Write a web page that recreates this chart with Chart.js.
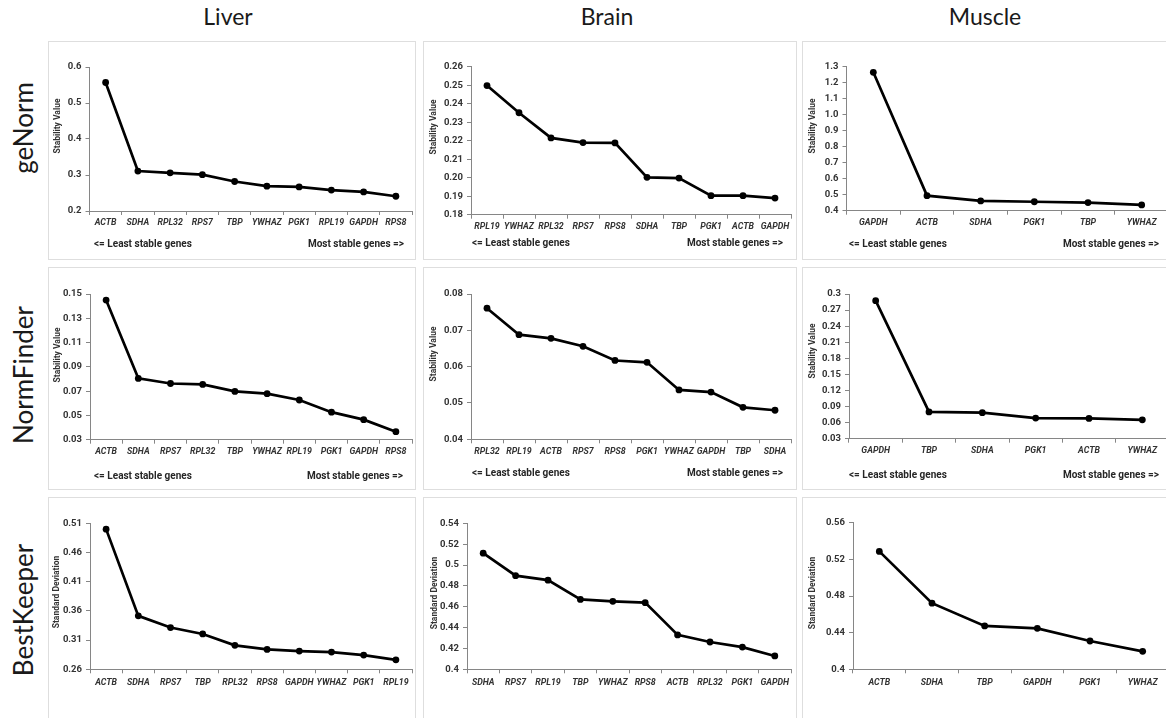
<!DOCTYPE html>
<html>
<head>
<meta charset="utf-8">
<script src="https://cdn.jsdelivr.net/npm/chart.js@4.4.1/dist/chart.umd.min.js"></script>
<style>
  html, body { margin: 0; padding: 0; background: #fff; }
  body { width: 1166px; height: 718px; position: relative; overflow: hidden; font-family: Lato, "Open Sans", sans-serif; }
  .panel { position: absolute; box-sizing: border-box; border: 1px solid #dedede; background: #fff; }
  .cv { position: absolute; }
  .colhead { position: absolute; top: 2px; width: 200px; margin-left: -100px; text-align: center; font-size: 23px; color: #1a1a1a; }
  .rowhead { position: absolute; left: 23px; width: 200px; height: 30px; margin-left: -100px; margin-top: -15px;
             line-height: 30px; text-align: center; font-size: 26px; color: #1a1a1a; transform: rotate(-90deg); }
</style>
</head>
<body>
<div class="colhead" style="left:228px">Liver</div>
<div class="colhead" style="left:607px">Brain</div>
<div class="colhead" style="left:985px">Muscle</div>
<div class="rowhead" style="top:128px">geNorm</div>
<div class="rowhead" style="top:375px">NormFinder</div>
<div class="rowhead" style="top:610px">BestKeeper</div>

<script>
// ---- data ----
const genesLiverGe = ["ACTB", "SDHA", "RPL32", "RPS7", "TBP", "YWHAZ", "PGK1", "RPL19", "GAPDH", "RPS8"];
const valsLiverGe = [0.557, 0.311, 0.306, 0.301, 0.282, 0.269, 0.267, 0.258, 0.253, 0.241];
const ticksLiverGe = ["0.2", "0.3", "0.4", "0.5", "0.6"];

const genesBrainGe = ["RPL19", "YWHAZ", "RPL32", "RPS7", "RPS8", "SDHA", "TBP", "PGK1", "ACTB", "GAPDH"];
const valsBrainGe = [0.2498, 0.2351, 0.2215, 0.219, 0.2188, 0.2002, 0.1998, 0.1903, 0.1903, 0.189];
const ticksBrainGe = ["0.18", "0.19", "0.20", "0.21", "0.22", "0.23", "0.24", "0.25", "0.26"];

const genesMuscleGe = ["GAPDH", "ACTB", "SDHA", "PGK1", "TBP", "YWHAZ"];
const valsMuscleGe = [1.265, 0.494, 0.461, 0.456, 0.451, 0.436];
const ticksMuscleGe = ["0.4", "0.5", "0.6", "0.7", "0.8", "0.9", "1.0", "1.1", "1.2", "1.3"];

const genesLiverNf = ["ACTB", "SDHA", "RPS7", "RPL32", "TBP", "YWHAZ", "RPL19", "PGK1", "GAPDH", "RPS8"];
const valsLiverNf = [0.145, 0.0805, 0.0763, 0.0755, 0.0698, 0.0679, 0.0627, 0.0527, 0.0465, 0.0366];
const ticksLiverNf = ["0.03", "0.05", "0.07", "0.09", "0.11", "0.13", "0.15"];

const genesBrainNf = ["RPL32", "RPL19", "ACTB", "RPS7", "RPS8", "PGK1", "YWHAZ", "GAPDH", "TBP", "SDHA"];
const valsBrainNf = [0.0761, 0.0688, 0.0678, 0.0656, 0.0617, 0.0612, 0.0536, 0.053, 0.0488, 0.048];
const ticksBrainNf = ["0.04", "0.05", "0.06", "0.07", "0.08"];

const genesMuscleNf = ["GAPDH", "TBP", "SDHA", "PGK1", "ACTB", "YWHAZ"];
const valsMuscleNf = [0.2875, 0.08, 0.0785, 0.0685, 0.0678, 0.0652];
const ticksMuscleNf = ["0.03", "0.06", "0.09", "0.12", "0.15", "0.18", "0.21", "0.24", "0.27", "0.3"];

const genesLiverBk = ["ACTB", "SDHA", "RPS7", "TBP", "RPL32", "RPS8", "GAPDH", "YWHAZ", "PGK1", "RPL19"];
const valsLiverBk = [0.5, 0.3515, 0.3315, 0.3205, 0.301, 0.294, 0.2912, 0.2895, 0.2843, 0.2762];
const ticksLiverBk = ["0.26", "0.31", "0.36", "0.41", "0.46", "0.51"];

const genesBrainBk = ["SDHA", "RPS7", "RPL19", "TBP", "YWHAZ", "RPS8", "ACTB", "RPL32", "PGK1", "GAPDH"];
const valsBrainBk = [0.5114, 0.4898, 0.4855, 0.467, 0.4652, 0.4639, 0.433, 0.4262, 0.4213, 0.4128];
const ticksBrainBk = ["0.4", "0.42", "0.44", "0.46", "0.48", "0.5", "0.52", "0.54"];

const genesMuscleBk = ["ACTB", "SDHA", "TBP", "GAPDH", "PGK1", "YWHAZ"];
const valsMuscleBk = [0.5287, 0.4722, 0.4473, 0.4447, 0.4309, 0.4196];
const ticksMuscleBk = ["0.4", "0.44", "0.48", "0.52", "0.56"];

// ---- layout ----
const panelCols = [{ left: 48, width: 368 }, { left: 423, width: 374 }, { left: 802, width: 380 }];
const panelRows = [{ top: 41, height: 219 }, { top: 267, height: 223 }, { top: 497, height: 225 }];
const axisGray = "#868686";
const textGray = "#333333";
const smallFont = "Roboto";

// plot: [left, top, right, bottom] in page pixels; title/notes also page pixels
const panels = [
  { col: 0, row: 0, genes: genesLiverGe, vals: valsLiverGe, ticks: ticksLiverGe, plot: [89.5, 67, 413, 211],
    title: "Stability Value", titleX: 58, titleY: 126, notesY: 244, notesL: 94, notesR: 404 },
  { col: 1, row: 0, genes: genesBrainGe, vals: valsBrainGe, ticks: ticksBrainGe, plot: [471, 66.7, 791, 214.7],
    title: "Stability Value", titleX: 434, titleY: 127, notesY: 243, notesL: 472, notesR: 783 },
  { col: 2, row: 0, genes: genesMuscleGe, vals: valsMuscleGe, ticks: ticksMuscleGe, plot: [846.5, 66.7, 1168.5, 210.7],
    title: "Stability Value", titleX: 813, titleY: 126, notesY: 244, notesL: 849, notesR: 1159 },
  { col: 0, row: 1, genes: genesLiverNf, vals: valsLiverNf, ticks: ticksLiverNf, plot: [90, 294, 413, 439.7],
    title: "Stability Value", titleX: 58, titleY: 355, notesY: 476, notesL: 94, notesR: 403 },
  { col: 1, row: 1, genes: genesBrainNf, vals: valsBrainNf, ticks: ticksBrainNf, plot: [471, 294, 791, 439.3],
    title: "Stability Value", titleX: 434, titleY: 354, notesY: 473, notesL: 472, notesR: 783 },
  { col: 2, row: 1, genes: genesMuscleNf, vals: valsMuscleNf, ticks: ticksMuscleNf, plot: [849, 294, 1169, 438.7],
    title: "Stability Value", titleX: 813, titleY: 351, notesY: 475, notesL: 849, notesR: 1159 },
  { col: 0, row: 2, genes: genesLiverBk, vals: valsLiverBk, ticks: ticksLiverBk, plot: [90, 523.3, 412, 669.3],
    title: "Standard Deviation", titleX: 57, titleY: 592 },
  { col: 1, row: 2, genes: genesBrainBk, vals: valsBrainBk, ticks: ticksBrainBk, plot: [467, 523.3, 791, 669.3],
    title: "Standard Deviation", titleX: 435, titleY: 593 },
  { col: 2, row: 2, genes: genesMuscleBk, vals: valsMuscleBk, ticks: ticksMuscleBk, plot: [853, 522.7, 1169, 669.3],
    title: "Standard Deviation", titleX: 813, titleY: 593 },
];

// axis title + "least/most stable" notes, drawn in panel coordinates
const panelText = {
  id: "panelText",
  afterDraw(chart, args, o) {
    const ctx = chart.ctx;
    ctx.save();
    ctx.fillStyle = textGray;
    ctx.font = "bold 8.5px " + smallFont;
    ctx.textAlign = "center";
    ctx.textBaseline = "middle";
    ctx.translate(o.titleX, o.titleY);
    ctx.rotate(-Math.PI / 2);
    ctx.fillText(o.title, 0, 0);
    ctx.restore();
    if (o.notesY != null) {
      ctx.save();
      ctx.fillStyle = "#262626";
      ctx.font = "bold 10px " + smallFont;
      ctx.textBaseline = "middle";
      ctx.textAlign = "left";
      ctx.fillText("<= Least stable genes", o.notesL, o.notesY);
      ctx.textAlign = "right";
      ctx.fillText("Most stable genes =>", o.notesR, o.notesY);
      ctx.restore();
    }
  },
};

function makePanel(p) {
  const col = panelCols[p.col];
  const row = panelRows[p.row];
  const ox = col.left;
  const oy = row.top;
  const [l, t, r, b] = p.plot;

  const box = document.createElement("div");
  box.className = "panel";
  Object.assign(box.style, { left: ox + "px", top: oy + "px", width: col.width + "px", height: row.height + "px" });
  document.body.appendChild(box);

  const cv = document.createElement("canvas");
  cv.className = "cv";
  cv.width = col.width;
  cv.height = row.height;
  Object.assign(cv.style, { left: ox + "px", top: oy + "px", width: col.width + "px", height: row.height + "px" });
  document.body.appendChild(cv);

  const tickVals = p.ticks.map(Number);

  new Chart(cv, {
    type: "line",
    data: {
      labels: p.genes,
      datasets: [{
        data: p.vals,
        borderColor: "#000",
        backgroundColor: "#000",
        borderWidth: 2.7,
        pointRadius: 3.4,
        pointBackgroundColor: "#000",
        pointBorderWidth: 0,
        tension: 0,
      }],
    },
    options: {
      responsive: false,
      animation: false,
      events: [],
      layout: { padding: { left: 0, top: t - oy, right: ox + col.width - r, bottom: 0 } },
      plugins: {
        legend: { display: false },
        tooltip: { enabled: false },
        panelText: {
          title: p.title,
          titleX: p.titleX - ox,
          titleY: p.titleY - oy,
          notesY: p.notesY != null ? p.notesY - oy : null,
          notesL: p.notesL - ox,
          notesR: p.notesR - ox,
        },
      },
      scales: {
        x: {
          offset: true,
          grid: { offset: true, drawOnChartArea: false, drawTicks: true, tickLength: 4, color: axisGray },
          border: { color: axisGray, width: 1 },
          ticks: {
            autoSkip: false, maxRotation: 0, minRotation: 0, padding: p.row === 2 ? 4 : 3, color: textGray,
            font: { family: smallFont, size: 8.8, weight: "bold", style: "italic" },
          },
          afterFit: (s) => { s.height = oy + row.height - b; },
        },
        y: {
          min: tickVals[0],
          max: tickVals[tickVals.length - 1],
          afterBuildTicks: (s) => { s.ticks = tickVals.map((v) => ({ value: v })); },
          grid: { drawOnChartArea: false, drawTicks: true, tickLength: 4, color: axisGray },
          border: { color: axisGray, width: 1 },
          ticks: {
            padding: 4, color: textGray,
            font: { family: smallFont, size: 9.5, weight: "bold" },
            callback: (v, i) => p.ticks[i],
          },
          afterFit: (s) => { s.width = l - ox; },
        },
      },
    },
    plugins: [panelText],
  });
}

panels.forEach(makePanel);
</script>
</body>
</html>
